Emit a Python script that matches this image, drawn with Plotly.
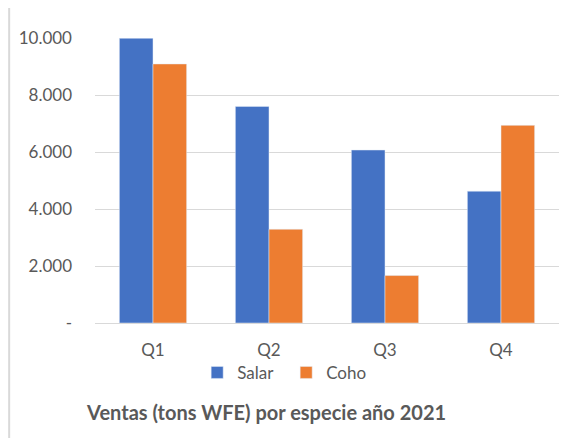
import plotly.graph_objects as go

categories = ["Q1", "Q2", "Q3", "Q4"]
salar = [9990, 7600, 6070, 4625]
coho = [9090, 3290, 1665, 6935]
y_tickvals = [0, 2000, 4000, 6000, 8000, 10000]
y_ticktext = ["-", "2.000", "4.000", "6.000", "8.000", "10.000"]
title_text = "Ventas (tons WFE) por especie año 2021"

FONT = "Lato, Carlito, Calibri, sans-serif"
GRAY = "#595959"

fig = go.Figure()
fig.add_trace(go.Bar(name="Salar", x=categories, y=salar, marker_color="#4472C4"))
fig.add_trace(go.Bar(name="Coho", x=categories, y=coho, marker_color="#ED7D31"))

fig.update_layout(
    width=561, height=430,
    margin=dict(l=87, r=10, t=30, b=115),
    paper_bgcolor="white", plot_bgcolor="white",
    barmode="group", bargap=0.42, bargroupgap=0,
    font=dict(family=FONT, size=17, color=GRAY),
    showlegend=True,
    legend=dict(orientation="h", xref="paper", yref="paper",
                x=0.412, y=-0.175, xanchor="center", yanchor="middle",
                bgcolor="rgba(0,0,0,0)",
                font=dict(size=17, color=GRAY), itemwidth=30,
                entrywidth=44, traceorder="normal"),
    title=dict(text="<b>" + title_text + "</b>", xref="container", yref="container",
               x=0.461, y=0.058, xanchor="center", yanchor="middle",
               font=dict(size=20, color=GRAY, family=FONT)),
)
fig.update_yaxes(range=[0, 10000], tickvals=y_tickvals, ticktext=y_ticktext,
                 showgrid=True, gridcolor="#D9D9D9", gridwidth=1,
                 zeroline=False, showline=False, ticklabelstandoff=22,
                 automargin=False, tickfont=dict(size=17, color=GRAY))
fig.update_xaxes(showline=True, linecolor="#D9D9D9", linewidth=1,
                 automargin=False, ticklabelstandoff=12,
                 tickfont=dict(size=17, color=GRAY))
fig.add_shape(type="line", xref="paper", yref="paper", x0=-0.185, x1=-0.185,
              y0=-0.6, y1=1.2, line=dict(color="#D9D9D9", width=2))

fig.write_html("out.html")
